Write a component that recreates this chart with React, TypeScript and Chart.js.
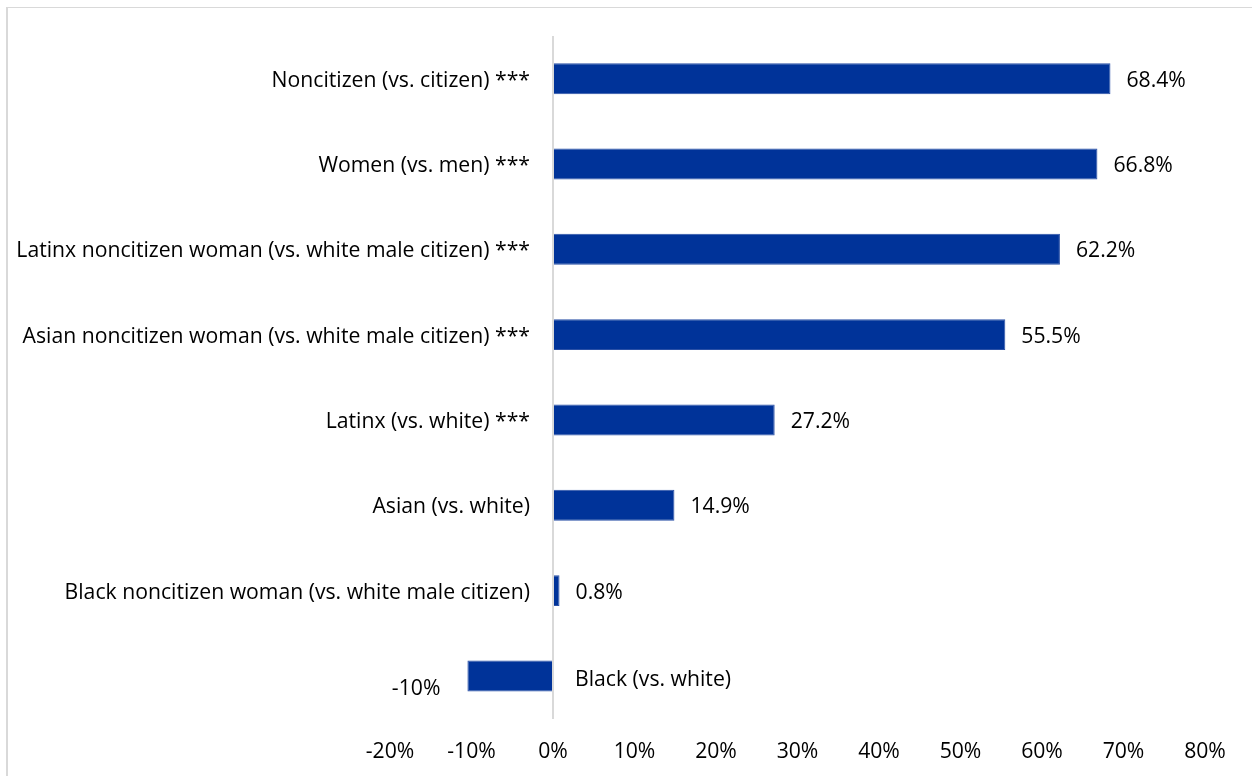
import React, { useEffect, useRef } from "react";
import { Chart, registerables } from "chart.js";

Chart.register(...registerables);

const categories = [
  "Noncitizen (vs. citizen) ***",
  "Women (vs. men) ***",
  "Latinx noncitizen woman (vs. white male citizen) ***",
  "Asian noncitizen woman (vs. white male citizen) ***",
  "Latinx (vs. white) ***",
  "Asian (vs. white)",
  "Black noncitizen woman (vs. white male citizen)",
  "Black (vs. white)",
];
const values = [68.4, 66.8, 62.2, 55.5, 27.2, 14.9, 0.8, -10.5];
const valueLabels = ["68.4%", "66.8%", "62.2%", "55.5%", "27.2%", "14.9%", "0.8%", "-10%"];
const xMin = -20;
const xMax = 80;
const xStep = 10;

const FONT = "'Open Sans'";
const FS = 21.2;
const TEXT = "#000";

const labelPlugin = {
  id: "barLabels",
  afterDatasetsDraw(chart: any) {
    const ctx = chart.ctx;
    const meta = chart.getDatasetMeta(0);
    const zeroX = chart.scales.x.getPixelForValue(0);
    ctx.save();
    ctx.font = `${FS}px ${FONT}`;
    ctx.fillStyle = TEXT;
    ctx.textBaseline = "middle";
    meta.data.forEach((bar: any, i: number) => {
      const v = values[i];
      if (v >= 0) {
        ctx.textAlign = "left";
        ctx.fillText(valueLabels[i], bar.x + 16, bar.y + 2);
        ctx.textAlign = "right";
        ctx.fillText(categories[i], zeroX - 23, bar.y + 2);
      } else {
        ctx.textAlign = "right";
        ctx.fillText(valueLabels[i], bar.x - 27, bar.y + 13);
        ctx.textAlign = "left";
        ctx.fillText(categories[i], zeroX + 22, bar.y + 4);
      }
    });
    ctx.restore();
  },
};

export default function App() {
  const ref = useRef<HTMLCanvasElement>(null);
  useEffect(() => {
    document.body.style.margin = "0";
    document.body.style.overflow = "hidden";
    const chart = new Chart(ref.current!, {
      type: "bar",
      data: {
        labels: categories,
        datasets: [
          {
            data: values,
            backgroundColor: "#003399",
            borderColor: "#2a50a6",
            borderWidth: 1,
            categoryPercentage: 1,
            barPercentage: 0.363,
          },
        ],
      },
      options: {
        indexAxis: "y",
        animation: false,
        responsive: false,
        maintainAspectRatio: false,
        layout: { padding: { top: 36, left: 390, right: 47, bottom: 0 } },
        plugins: { legend: { display: false }, tooltip: { enabled: false } },
        scales: {
          y: { display: false },
          x: {
            min: xMin,
            max: xMax,
            afterFit: (s: any) => {
              s.height = 57.4;
            },
            border: { display: false },
            grid: {
              drawTicks: false,
              color: (c: any) => (c.tick && c.tick.value === 0 ? "#d9d9d9" : "rgba(0,0,0,0)"),
              lineWidth: 2,
            },
            ticks: {
              stepSize: xStep,
              padding: 21,
              color: TEXT,
              font: { family: FONT, size: FS },
              callback: (v: any) => `${v}%`,
            },
          },
        },
      },
      plugins: [labelPlugin],
    });
    return () => chart.destroy();
  }, []);
  return (
    <div style={{ position: "relative", width: 1252, height: 776, overflow: "hidden" }}>
      <div
        style={{
          position: "absolute",
          left: 6,
          top: 7,
          width: 1246,
          height: 769,
          boxSizing: "border-box",
          borderLeft: "2px solid #d9d9d9",
          borderTop: "1px solid #d9d9d9",
        }}
      />
      <canvas ref={ref} width={1252} height={776} style={{ position: "absolute", left: 0, top: 0 }} />
    </div>
  );
}
